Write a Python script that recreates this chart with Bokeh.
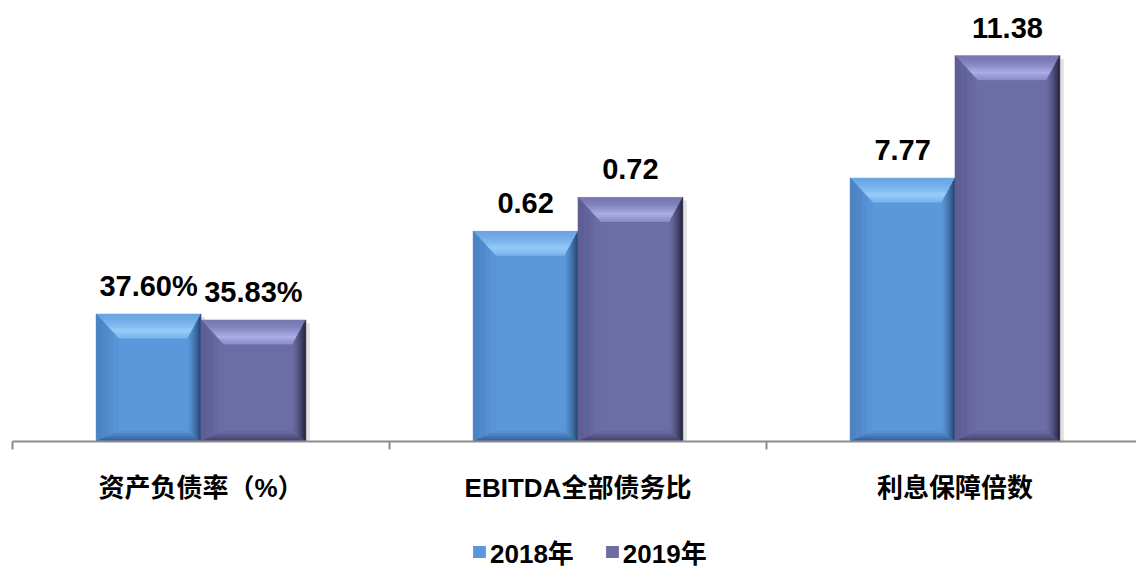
import numpy as np
from bokeh.plotting import figure
from bokeh.models import ColumnDataSource, Legend, LegendItem, Range1d
from bokeh.core.properties import value
from bokeh.embed import file_html
from bokeh.resources import INLINE

# ---- data -------------------------------------------------------------
categories = ["资产负债率（%）", "EBITDA全部债务比", "利息保障倍数"]
series = ["2018年", "2019年"]
# bar heights as drawn on the chart's shared value scale
height_2018 = [0.3760, 0.62, 0.777]
height_2019 = [0.3583, 0.72, 1.138]
labels_2018 = ["37.60%", "0.62", "7.77"]
labels_2019 = ["35.83%", "0.72", "11.38"]

# ---- layout constants ---------------------------------------------------
W, H = 1136, 569
AXIS_X0 = 12        # px where the first category starts
AXIS_Y = 441        # px of the baseline from the top
PX_PER_X = 377.0
PX_PER_Y = 339.0
BAR_W = 0.278

FONT = "Liberation Sans, Noto Sans CJK SC"

styles = {
    "2018年": dict(main="#5B97DB", light="#96CDF9", mid="#6CA6E4", dark="#24456E",
                   left="#4A80C0", bottom="#335E93"),
    "2019年": dict(main="#6D6DA6", light="#AEAEEA", mid="#7878B2", dark="#24243C",
                   left="#5C5C92", bottom="#40406A"),
}

x_start = -0.5 - AXIS_X0 / PX_PER_X
p = figure(width=W, height=H, output_backend="svg", toolbar_location=None,
           x_range=Range1d(x_start, x_start + W / PX_PER_X),
           y_range=Range1d(-(H - AXIS_Y) / PX_PER_Y, AXIS_Y / PX_PER_Y),
           min_border=0)
p.outline_line_color = None
p.grid.visible = False
p.axis.visible = False
p.background_fill_color = "white"
p.border_fill_color = "white"


def hex2rgb(h):
    h = h.lstrip("#")
    return np.array([int(h[i:i + 2], 16) for i in (0, 2, 4)], dtype=float)


def lerp(c1, c2, t):
    a, b = hex2rgb(c1), hex2rgb(c2)
    c = a + (b - a) * t
    return "#%02x%02x%02x" % tuple(int(round(v)) for v in c)


dx = 1.0 / PX_PER_X
dy = 1.0 / PX_PER_Y
T, L, R, B = 24, 22, 13, 10  # bevel sizes in px

idx = np.arange(len(categories))
x0_2018 = idx - BAR_W
x0_2019 = idx.astype(float)

shadow = dict(left=[], right=[], top=[], bottom=[])
poly = dict(xs=[], ys=[], color=[])
mains = {}

for name, x0s, hs in ((series[0], x0_2018, height_2018), (series[1], x0_2019, height_2019)):
    st = styles[name]
    src = ColumnDataSource(dict(left=x0s, right=x0s + BAR_W, top=hs, bottom=[0] * len(hs)))
    for x0, h in zip(x0s, hs):
        x1 = x0 + BAR_W
        shadow["left"].append(x1)
        shadow["right"].append(x1 + 4 * dx)
        shadow["top"].append(h - 3 * dy)
        shadow["bottom"].append(0)
        # top bevel (gradient slices)
        n = 12
        for k in range(n):
            f1, f2 = k / n, (k + 1) / n
            d1, d2 = f1 * T, f2 * T
            xs = [x0 + L * f1 * dx, x1 - R * f1 * dx, x1 - R * f2 * dx, x0 + L * f2 * dx]
            ys = [h - d1 * dy, h - d1 * dy, h - d2 * dy, h - d2 * dy]
            t = (f1 + f2) / 2
            if t < 0.7:
                col = lerp(st["mid"], st["light"], (t / 0.7) ** 1.8)
            else:
                col = lerp(st["light"], st["mid"], (t - 0.7) / 0.3 * 0.6)
            poly["xs"].append(xs); poly["ys"].append(ys); poly["color"].append(col)
        # right side
        n = 6
        for k in range(n):
            f1, f2 = 1 - k / n, 1 - (k + 1) / n  # from inner to edge
            xs = [x1 - R * f1 * dx, x1 - R * f2 * dx, x1 - R * f2 * dx, x1 - R * f1 * dx]
            ys = [h - T * f1 * dy, h - T * f2 * dy, B * f2 * dy, B * f1 * dy]
            t = (k + 0.5) / n
            poly["xs"].append(xs); poly["ys"].append(ys); poly["color"].append(lerp(st["main"], st["dark"], t ** 1.3))
        # left side
        n = 4
        for k in range(n):
            f1, f2 = 1 - k / n, 1 - (k + 1) / n
            xs = [x0 + L * f1 * dx, x0 + L * f2 * dx, x0 + L * f2 * dx, x0 + L * f1 * dx]
            ys = [h - T * f1 * dy, h - T * f2 * dy, B * f2 * dy, B * f1 * dy]
            t = (k + 0.5) / n
            poly["xs"].append(xs); poly["ys"].append(ys); poly["color"].append(lerp(st["main"], st["left"], t))
        # bottom
        n = 4
        for k in range(n):
            f1, f2 = 1 - k / n, 1 - (k + 1) / n
            xs = [x0 + L * f1 * dx, x1 - R * f1 * dx, x1 - R * f2 * dx, x0 + L * f2 * dx]
            ys = [B * f1 * dy, B * f1 * dy, B * f2 * dy, B * f2 * dy]
            t = (k + 0.5) / n
            poly["xs"].append(xs); poly["ys"].append(ys); poly["color"].append(lerp(st["main"], st["bottom"], t))
    mains[name] = src

p.quad(left="left", right="right", top="top", bottom="bottom",
       source=ColumnDataSource(shadow), fill_color="#cfcfcf", fill_alpha=0.6, line_color=None)

renderers = {}
for name in series:
    renderers[name] = p.quad(left="left", right="right", top="top", bottom="bottom",
                             source=mains[name], fill_color=styles[name]["main"], line_color=None)

p.patches(xs="xs", ys="ys", source=ColumnDataSource(poly), fill_color="color",
          line_color="color", line_width=0.6)

# value labels
lab_src = ColumnDataSource(dict(
    x=list(x0_2018 + BAR_W / 2) + list(x0_2019 + BAR_W / 2),
    y=height_2018 + height_2019,
    text=labels_2018 + labels_2019,
))
p.text(x="x", y="y", text="text", source=lab_src, text_align="center",
       text_baseline="alphabetic", y_offset=-28, text_font=value(FONT),
       text_font_size="29px", text_font_style="bold", text_color="black")

# category axis: baseline, boundary ticks and category names
bounds = np.append(idx - 0.5, idx[-1] + 0.5)
p.segment(x0=[bounds[0]], y0=[0], x1=[bounds[-1]], y1=[0],
          line_color="#8C8C8C", line_width=2)
p.segment(x0=bounds, y0=np.zeros(len(bounds)), x1=bounds,
          y1=np.full(len(bounds), -8 * dy), line_color="#8C8C8C", line_width=2)
p.text(x=idx, y=np.zeros(len(idx)), text=categories, text_align="center",
       text_baseline="middle", y_offset=46, text_font=value(FONT),
       text_font_size="26px", text_font_style="bold", text_color="black")

legend = Legend(items=[LegendItem(label=s, renderers=[renderers[s]]) for s in series],
                orientation="horizontal", location=(471, -1),
                label_text_font=FONT, label_text_font_size="26px",
                label_text_font_style="bold", label_text_color="black",
                glyph_width=16, glyph_height=15, label_standoff=3, spacing=30,
                padding=0, margin=0, border_line_color=None, background_fill_alpha=0)
p.add_layout(legend)

open("out.html", "w").write(file_html(p, INLINE))
